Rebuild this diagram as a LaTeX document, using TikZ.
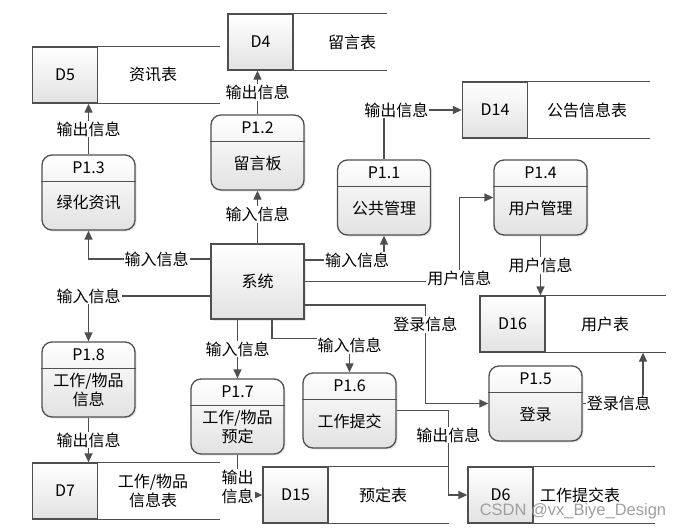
\documentclass[tikz,border=0pt]{standalone}
\usepackage{fontspec}
\setmainfont{Noto Sans CJK SC}
\newfontfamily\markfont{Liberation Sans}
\usetikzlibrary{shapes,arrows.meta,positioning,shadows}
\definecolor{linegray}{HTML}{4F4F4F}
\definecolor{boxgray}{HTML}{E2E2E2}
\tikzstyle{line} = [draw=linegray, line width=1.3pt]
\tikzstyle{arrow} = [line, -{Triangle[length=9pt,width=8pt]}]
\tikzstyle{lbl} = [fill=white, inner sep=1pt, text=black]
\tikzstyle{proc} = [rectangle, rounded corners=10pt, minimum width=93pt, minimum height=75pt, line, top color=white, bottom color=boxgray, drop shadow={shadow xshift=1.5pt, shadow yshift=-1.5pt, opacity=0.2}]
\tikzstyle{sysbox} = [rectangle, minimum width=93pt, minimum height=75pt, line, top color=white, bottom color=boxgray, drop shadow={shadow xshift=1.5pt, shadow yshift=-1.5pt, opacity=0.2}]
\tikzstyle{store} = [rectangle, minimum width=65pt, minimum height=56pt, line, top color=white, bottom color=boxgray]

% process box: name, position, id, text
\newcommand{\procbox}[4]{%
  \node[proc] (#1) at (#2) {};
  \draw[line] ([yshift=-27pt]#1.north west) -- ([yshift=-27pt]#1.north east);
  \node (#1-id) at ([yshift=-13pt]#1.north) {#3};
  \node[align=center] (#1-txt) at ([yshift=-10.5pt]#1.center) {#4};
}
% data store: name, position, id, line length, text offset, text
\newcommand{\storebox}[6]{%
  \node[store] (#1) at (#2) {#3};
  \draw[line] (#1.north west) -- ++(#4pt,0);
  \draw[line] (#1.south west) -- ++(#4pt,0);
  \node[align=center] (#1-txt) at ([xshift=#5pt]#1.center) {#6};
}

\begin{document}
\begin{tikzpicture}[x=1pt, y=-1pt, font=\fontsize{16}{19}\selectfont]
  \useasboundingbox (0,0) rectangle (691,531);

  % data stores
  \storebox{d4}{260.5,42}{D4}{160}{91.5}{留言表}
  \storebox{d5}{65,75}{D5}{188}{88}{资讯表}
  \storebox{d14}{495,110}{D14}{188}{92}{公告信息表}
  \storebox{d16}{512.5,324}{D16}{187}{92.5}{用户表}
  \storebox{d7}{65,491}{D7}{188}{88}{工作/物品\\信息表}
  \storebox{d15}{295.5,495}{D15}{187}{87.5}{预定表}
  \storebox{d6}{500.5,495}{D6}{188}{79.5}{工作提交表}

  % processes
  \procbox{p13}{88.5,192.5}{P1.3}{绿化资讯}
  \procbox{p12}{257.5,152.5}{P1.2}{留言板}
  \procbox{p11}{384,197.5}{P1.1}{公共管理}
  \procbox{p14}{540.5,197.5}{P1.4}{用户管理}
  \procbox{p15}{535.5,403.5}{P1.5}{登录}
  \procbox{p16}{349.5,410.5}{P1.6}{工作提交}
  \procbox{p17}{237.5,416.5}{P1.7}{工作/物品\\预定}
  \procbox{p18}{88.5,379.5}{P1.8}{工作/物品\\信息}

  \node[sysbox] (sys) at (257.5,281.5) {系统};

  % flows
  \draw[arrow] ([yshift=22.5pt]sys.west) -| node[lbl, pos=0.22] (f1) {输入信息} (p13.south);
  \draw[arrow] (sys.north) -- node[lbl, pos=0.55] (f2) {输入信息} (p12.south);
  \draw[arrow] (p12.north) -- node[lbl] (f3) {输出信息} (p12.north |- d4.south);
  \draw[arrow] (p13.north) -- node[lbl] (f4) {输出信息} (p13.north |- d5.south);
  \draw[arrow] ([yshift=21.5pt]sys.east) -| node[lbl, pos=0.33] (f5) {输入信息} (p11.south);
  \draw[arrow] (p11.north) |- node[lbl, pos=0.58] (f6) {输出信息} (d14.west);
  \draw[arrow] (sys.east) -| node[lbl, yshift=3pt] (f7) {用户信息} ([xshift=-34pt]p14.west) -- (p14.west);
  \draw[arrow] (p14.south) -- node[lbl] (f8) {用户信息} (p14.south |- d16.north);
  \draw[arrow] ([yshift=-23.5pt]sys.east) -| node[lbl, pos=0.6] (f9) {登录信息} ([xshift=-63pt]p15.west) -- (p15.west);
  \draw[arrow] (p15.east) -| node[lbl, pos=0.3] (f10) {登录信息} ([xshift=130.5pt]d16.south);
  \draw[arrow] ([xshift=14.5pt]sys.south) |- ([yshift=34pt]p16.north) -- node[lbl, pos=0.2] (f11) {输入信息} (p16.north);
  \draw[arrow] (p17.north |- sys.south) -- node[lbl] (f12) {输入信息} (p17.north);
  \draw[arrow] (p16.east) -| node[lbl, pos=0.645] (f13) {输出信息} ([xshift=-19pt]d6.west) -- (d6.west);
  \draw[arrow] (p17.south) |- node[lbl, pos=0.4, align=center] (f14) {输出\\信息} (d15.west);
  \draw[arrow] (p18.south) -- node[lbl] (f15) {输出信息} (p18.south |- d7.north);
  \draw[arrow] ([yshift=-14.5pt]sys.west) -| node[lbl] (f16) {输入信息} (p18.north);

  \node[text=gray!75, font=\markfont\fontsize{16.5}{18}\selectfont] (mark) at (573,511) {CSDN @vx\_Biye\_Design};
\end{tikzpicture}
\end{document}
